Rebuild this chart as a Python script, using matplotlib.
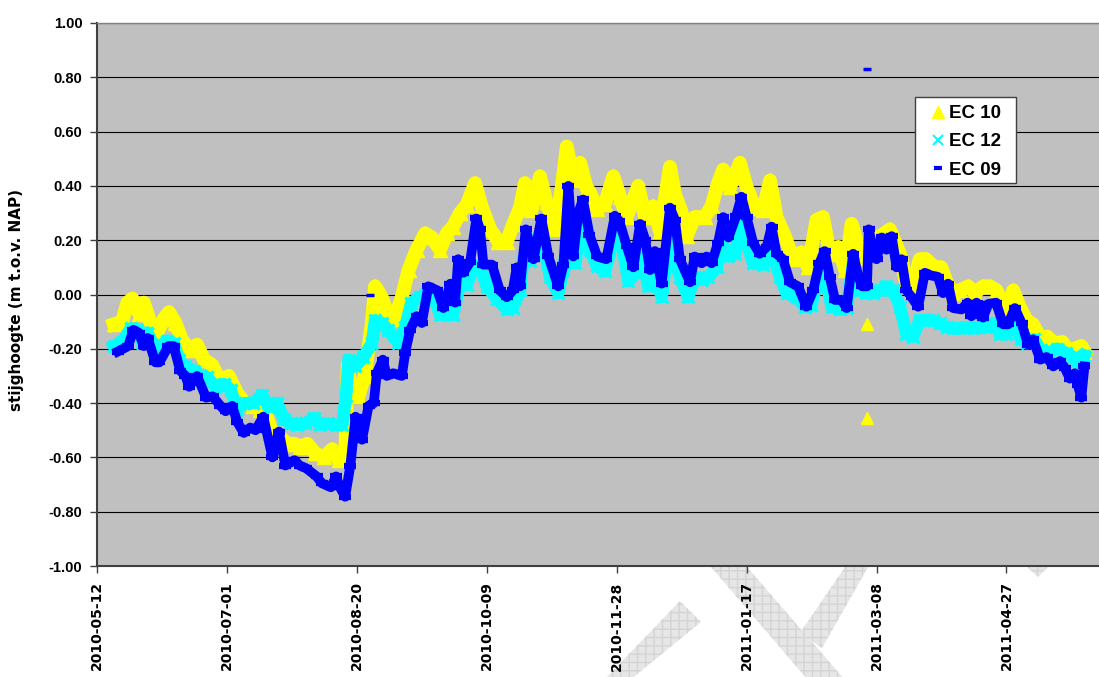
import numpy as np
import pandas as pd
import matplotlib
matplotlib.use("Agg")
import matplotlib.pyplot as plt
import matplotlib.dates as mdates
from matplotlib.lines import Line2D
from matplotlib.patches import Polygon, Rectangle

# days counted from 2010-05-12, values in m t.o.v. NAP
start = pd.Timestamp("2010-05-12")

ec09_days = [8, 12, 14, 16, 18, 19.5, 22.5, 24, 27.5, 29.5, 32, 34, 35.5, 37.5, 38.5, 42, 44.5, 47.5,
             49.5, 52, 54, 56.5, 59, 61, 64, 67.5, 70, 72.5, 76, 78, 80.5, 84.5, 86.5, 90, 92, 93.5,
             95.5, 97.5, 99.5, 102, 104.5, 106.5, 107.7, 110, 111.5, 114, 117.3, 118.6, 120.5, 123,
             125, 127.5, 131, 133.3, 136, 137.8, 139, 141, 143.6, 146, 147.4, 148.7, 152, 155, 157.7,
             160, 161.5, 162.8, 165, 168, 171, 173.7, 177.5, 179.5, 181.4, 183.3, 185.2, 187, 189.5,
             192.5, 196, 199.3, 201, 203.8, 206.4, 209, 211, 212.8, 214.7, 217.3, 220.5, 222.4, 224.3,
             228.2, 230, 232.7, 234.6, 236.5, 239, 241, 243, 246, 248, 250, 252.5, 255, 257.7, 259.6,
             261.5, 264, 266.7, 269.8, 273, 275.6, 278, 280, 282, 284, 286.5, 288.5, 291, 293, 294.5,
             296.3, 297, 298.7, 300, 302, 303.8, 305.8, 307.7, 309.6, 311.5, 313.5, 316, 318.6, 321,
             323.6, 325.6, 327.5, 329.5, 332.7, 335, 336.5, 338.5, 341, 343, 346, 348.7, 350.6, 353.2,
             355.8, 358.3, 360.2, 363, 365.4, 368, 370.6, 372.4, 374.4, 376.3, 377.5, 378.8, 380]
ec09_vals = [-0.21, -0.19, -0.13, -0.14, -0.19, -0.16, -0.25, -0.25, -0.19, -0.19, -0.28, -0.30, -0.34,
             -0.31, -0.30, -0.38, -0.375, -0.41, -0.43, -0.41, -0.47, -0.51, -0.49, -0.50, -0.45, -0.60,
             -0.505, -0.63, -0.61, -0.63, -0.64, -0.67, -0.695, -0.71, -0.67, -0.71, -0.745, -0.63,
             -0.45, -0.535, -0.41, -0.40, -0.29, -0.24, -0.30, -0.29, -0.30, -0.215, -0.13, -0.08,
             -0.105, 0.03, 0.015, -0.05, 0.04, -0.03, 0.13, 0.08, 0.12, 0.28, 0.24, 0.11, 0.11, 0.015,
             -0.01, 0.015, 0.10, 0.03, 0.24, 0.13, 0.28, 0.14, 0.03, 0.11, 0.40, 0.14, 0.30, 0.35, 0.22,
             0.14, 0.13, 0.29, 0.27, 0.18, 0.10, 0.26, 0.20, 0.09, 0.16, 0.04, 0.32, 0.275, 0.13, 0.045,
             0.14, 0.115, 0.14, 0.115, 0.19, 0.285, 0.21, 0.29, 0.36, 0.285, 0.19, 0.15, 0.175, 0.25,
             0.15, 0.13, 0.045, 0.03, -0.045, 0.015, 0.115, 0.16, 0.065, -0.02, -0.02, -0.05, 0.15,
             0.065, 0.03, 0.03, 0.24, 0.165, 0.13, 0.21, 0.165, 0.215, 0.10, 0.13, 0.015, -0.01, -0.045,
             0.08, 0.07, 0.065, 0.005, 0.04, -0.05, -0.055, -0.03, -0.08, -0.03, -0.085, -0.035, -0.03,
             -0.11, -0.11, -0.05, -0.105, -0.185, -0.165, -0.24, -0.23, -0.265, -0.245, -0.27, -0.31,
             -0.29, -0.335, -0.38, -0.265]

ec12_days = [6.5, 9.7, 13, 15.5, 17.4, 19.3, 22, 24.5, 27, 29.6, 31.5, 34, 37.3, 40, 42.4, 45.6, 48.8,
             51.4, 54, 57, 60.2, 63.6, 66, 69.3, 72, 74.5, 77, 80, 83.5, 86, 89, 91.8, 94.4, 95.8, 96.8,
             99.3, 102.5, 105.8, 107, 109.6, 112, 116, 118.6, 121, 124.3, 127, 129.6, 132, 134.6, 137,
             139.7, 142.3, 144.9, 147.4, 150, 153.8, 157.7, 160, 162.8, 164, 166.7, 169.2, 171.7, 174.3,
             177.5, 179.5, 182, 184, 186, 187.7, 189.7, 192.3, 195.5, 199.3, 201.9, 204.5, 207.7, 209.6,
             212.2, 214.7, 217.3, 220.5, 222.4, 224.3, 227.5, 230, 232.7, 235.3, 238.5, 240.5, 243,
             245.6, 248, 250, 252.5, 256.4, 259.6, 262.8, 265.4, 269.2, 272.4, 274.9, 278, 280, 282.7,
             286, 288.5, 291, 293.6, 296, 298.7, 301.3, 303.8, 306.4, 309, 311.5, 314, 316.6, 319,
             321.7, 324.3, 327, 329.5, 332, 334.6, 337.2, 339.6, 342.3, 344.9, 347.5, 350, 352.8, 355.5,
             358, 360.6, 363.2, 366.4, 369.6, 372.8, 375.6, 378.2, 380]
ec12_vals = [-0.19, -0.175, -0.125, -0.13, -0.18, -0.14, -0.19, -0.19, -0.17, -0.18, -0.24, -0.265,
             -0.28, -0.30, -0.305, -0.34, -0.33, -0.35, -0.425, -0.40, -0.40, -0.37, -0.415, -0.40,
             -0.46, -0.475, -0.48, -0.475, -0.455, -0.48, -0.475, -0.48, -0.48, -0.375, -0.24, -0.265,
             -0.23, -0.18, -0.095, -0.105, -0.13, -0.18, -0.12, -0.03, -0.01, 0.005, -0.01, -0.075,
             -0.07, -0.075, 0.04, 0.035, 0.10, 0.105, 0.03, -0.015, -0.055, -0.05, 0.015, 0.125, 0.125,
             0.20, 0.19, 0.065, 0.005, 0.09, 0.285, 0.115, 0.24, 0.24, 0.165, 0.105, 0.085, 0.225, 0.19,
             0.05, 0.08, 0.14, 0.03, 0.08, -0.01, 0.225, 0.125, 0.065, -0.01, 0.065, 0.055, 0.065, 0.10,
             0.19, 0.14, 0.15, 0.285, 0.19, 0.115, 0.11, 0.165, 0.065, 0.005, -0.01, -0.045, -0.04,
             0.08, 0.075, -0.045, -0.055, -0.05, 0.115, 0.015, 0.005, 0.005, 0.015, 0.03, 0.015, -0.045,
             -0.145, -0.155, -0.095, -0.095, -0.095, -0.105, -0.12, -0.125, -0.125, -0.12, -0.125,
             -0.12, -0.12, -0.105, -0.145, -0.145, -0.105, -0.165, -0.18, -0.165, -0.205, -0.215, -0.20,
             -0.215, -0.23, -0.265, -0.225]

ec10_days = [6.5, 9.7, 11.7, 13.6, 16.2, 18, 20.6, 23.2, 25.7, 27.7, 30.2, 32.8, 36, 38.5, 41.2, 44.3,
             47.5, 50.7, 54, 57, 60.2, 62.7, 65.3, 68, 70.6, 73.2, 75.8, 78.3, 80.9, 84, 87.3, 90.5, 93,
             95.5, 96.5, 97.5, 100.6, 103, 105.8, 107, 109.6, 112, 114.6, 117.3, 119.9, 123, 126.3,
             128.8, 132, 134.6, 137, 139.7, 142.3, 145.5, 148, 151.3, 154.5, 157.7, 160.2, 162.8, 164.7,
             167.2, 170.5, 173, 176.3, 178.8, 180.8, 183.3, 185.9, 188.5, 189.5, 192.5, 195.5, 198.7,
             201.3, 203.8, 208.3, 210.9, 214, 216.6, 220.5, 222.4, 224.9, 226.9, 230, 233.9, 236.5, 239,
             241, 243.6, 247.4, 250, 253.2, 256.4, 259, 261.5, 264.7, 267.9, 271, 273.7, 276.9, 279.4,
             282, 285.2, 288, 290.4, 293, 295.5, 298.6, 301.3, 303.8, 305.1, 307.7, 309.6, 311, 313.5,
             316.6, 319, 322.3, 324.9, 326.8, 329.5, 332, 335.3, 337.8, 341, 343.6, 346.2, 348.7, 350.6,
             352.6, 355.1, 357.7, 360.2, 363.2, 365.7, 368.3, 371.5, 374, 376, 378.8, 380]
ec10_vals = [-0.11, -0.10, -0.03, -0.015, -0.07, -0.03, -0.105, -0.14, -0.09, -0.065, -0.105, -0.17,
             -0.205, -0.185, -0.24, -0.26, -0.32, -0.30, -0.365, -0.40, -0.41, -0.425, -0.45, -0.525,
             -0.525, -0.55, -0.55, -0.56, -0.55, -0.585, -0.60, -0.57, -0.61, -0.60, -0.26, -0.33,
             -0.375, -0.30, -0.105, 0.03, -0.01, -0.08, -0.09, -0.01, 0.09, 0.165, 0.225, 0.21, 0.165,
             0.225, 0.25, 0.30, 0.33, 0.41, 0.325, 0.24, 0.195, 0.195, 0.26, 0.32, 0.41, 0.31, 0.435,
             0.34, 0.24, 0.39, 0.545, 0.42, 0.485, 0.39, 0.38, 0.315, 0.335, 0.435, 0.36, 0.285, 0.40,
             0.285, 0.325, 0.235, 0.47, 0.37, 0.305, 0.215, 0.285, 0.285, 0.325, 0.41, 0.46, 0.395,
             0.485, 0.395, 0.32, 0.31, 0.42, 0.285, 0.215, 0.13, 0.155, 0.10, 0.275, 0.285, 0.15, 0.175,
             0.09, 0.26, 0.175, 0.135, 0.19, 0.215, 0.23, 0.24, 0.18, 0.135, 0.055, 0.015, 0.13, 0.13,
             0.10, 0.10, 0.05, 0.005, 0.015, 0.03, 0.005, 0.03, 0.03, 0.015, -0.045, -0.045, 0.015,
             -0.045, -0.095, -0.11, -0.165, -0.155, -0.18, -0.175, -0.21, -0.20, -0.19, -0.21]

# isolated readings (spikes)
ec09_spike_days = [105, 296.5]
ec09_spike_vals = [0.0, 0.83]
ec10_spike_days = [296.5, 296.5]
ec10_spike_vals = [-0.11, -0.455]

labels = ["EC 10", "EC 12", "EC 09"]
colors = ["#FFFF00", "#00FFFF", "#0000FF"]
yticks = [i / 5 for i in range(-5, 6)]


def to_dates(days):
    return start + pd.to_timedelta(np.array(days), unit="D")


W, H = 1099, 677
fig = plt.figure(figsize=(W / 100, H / 100), dpi=100)


def px(x, y):
    # figure pixel (from top-left) -> figure fraction
    return (x / W, 1 - y / H)


# light grey draft watermark behind the chart
wm_shapes = [
    [(680, 601), (701, 622), (630, 680), (604, 680)],
    [(711, 567), (747, 567), (845, 680), (808, 680)],
    [(800, 633), (822, 648), (868, 567), (845, 567)],
    [(1027, 567), (1048, 567), (1038, 577)],
]
for shp in wm_shapes:
    fig.add_artist(Polygon([px(x, y) for x, y in shp], closed=True, transform=fig.transFigure,
                           facecolor="#E6E6E6", edgecolor="#D4D4D4", hatch="++", linewidth=0,
                           zorder=0))

ax = fig.add_axes([97 / W, 1 - 566 / H, (W - 97) / W, (566 - 23) / H])
ax.set_facecolor("#C0C0C0")

# bands: EC 10 first, EC 12, EC 09 on top
ax.plot(to_dates(ec10_days), ec10_vals, color=colors[0], lw=10, marker="^", ms=10,
        solid_joinstyle="round", zorder=3)
ax.plot(to_dates(ec12_days), ec12_vals, color=colors[1], lw=9, marker="x", ms=9, mew=2.5,
        solid_joinstyle="round", zorder=4)
ax.plot(to_dates(ec09_days), ec09_vals, color=colors[2], lw=7, marker="_", ms=9, mew=4.5,
        solid_joinstyle="round", zorder=5)
ax.plot(to_dates(ec10_spike_days), ec10_spike_vals, ls="none", marker="^", ms=8,
        color=colors[0], zorder=3)
ax.plot(to_dates(ec09_spike_days), ec09_spike_vals, ls="none", marker="_", ms=6, mew=2.5,
        color=colors[2], zorder=5)

ax.set_ylim(-1.0, 1.0)
ax.set_yticks(yticks)
ax.yaxis.set_major_formatter(matplotlib.ticker.FormatStrFormatter("%.2f"))
ax.set_xlim(start, start + pd.Timedelta(days=385.6))
ax.set_xticks(start + pd.to_timedelta(np.arange(0, 351, 50), unit="D"))
ax.xaxis.set_major_formatter(mdates.DateFormatter("%Y-%m-%d"))

ax.grid(axis="y", color="black", lw=0.8)
ax.set_axisbelow(True)
for lab in ax.get_yticklabels():
    lab.set_fontfamily("Liberation Sans")
    lab.set_fontweight("bold")
    lab.set_fontsize(10.5)
for lab in ax.get_xticklabels():
    lab.set_fontfamily("DejaVu Sans")
    lab.set_fontweight("bold")
    lab.set_fontsize(10)
    lab.set_rotation(90)
ax.tick_params(axis="y", direction="out", length=5, width=1, color="#404040", pad=5.5)
ax.tick_params(axis="x", direction="out", length=5, width=1, color="#404040", pad=6)

ax.spines["left"].set_color("#404040")
ax.spines["left"].set_linewidth(1.5)
ax.spines["bottom"].set_color("#404040")
ax.spines["bottom"].set_linewidth(1.5)
ax.spines["top"].set_color("#808080")
ax.spines["top"].set_linewidth(1)
ax.spines["right"].set_visible(False)

ax.set_ylabel("stijghoogte (m t.o.v. NAP)", fontfamily="DejaVu Sans", fontweight="bold",
              fontsize=11)
ax.yaxis.set_label_coords(-0.073, 0.49)

# legend box drawn as its own white rectangle, entries placed inside it
x0, y0 = ax.transAxes.inverted().transform(fig.transFigure.transform(px(915, 183)))
x1, y1 = ax.transAxes.inverted().transform(fig.transFigure.transform(px(1016, 97)))
ax.add_patch(Rectangle((x0, y0), x1 - x0, y1 - y0, transform=ax.transAxes, facecolor="white",
                       edgecolor="#404040", lw=1, zorder=9, clip_on=False))
handles = [
    Line2D([], [], ls="none", marker="^", ms=9, color=colors[0]),
    Line2D([], [], ls="none", marker="x", ms=7, mew=1.5, color=colors[1]),
    Line2D([], [], ls="none", marker="_", ms=6, mew=3, color=colors[2]),
]
ax_anchor = ax.transAxes.inverted().transform(fig.transFigure.transform(px(923, 105)))
leg = ax.legend(handles, labels, loc="upper left", bbox_to_anchor=tuple(ax_anchor),
                borderaxespad=0, borderpad=0, frameon=False, handlelength=1.6,
                handletextpad=-0.2, labelspacing=0.6,
                prop={"family": "Liberation Sans", "weight": "bold", "size": 13.5})
leg.set_zorder(10)

fig.savefig("out.png", dpi=100)
